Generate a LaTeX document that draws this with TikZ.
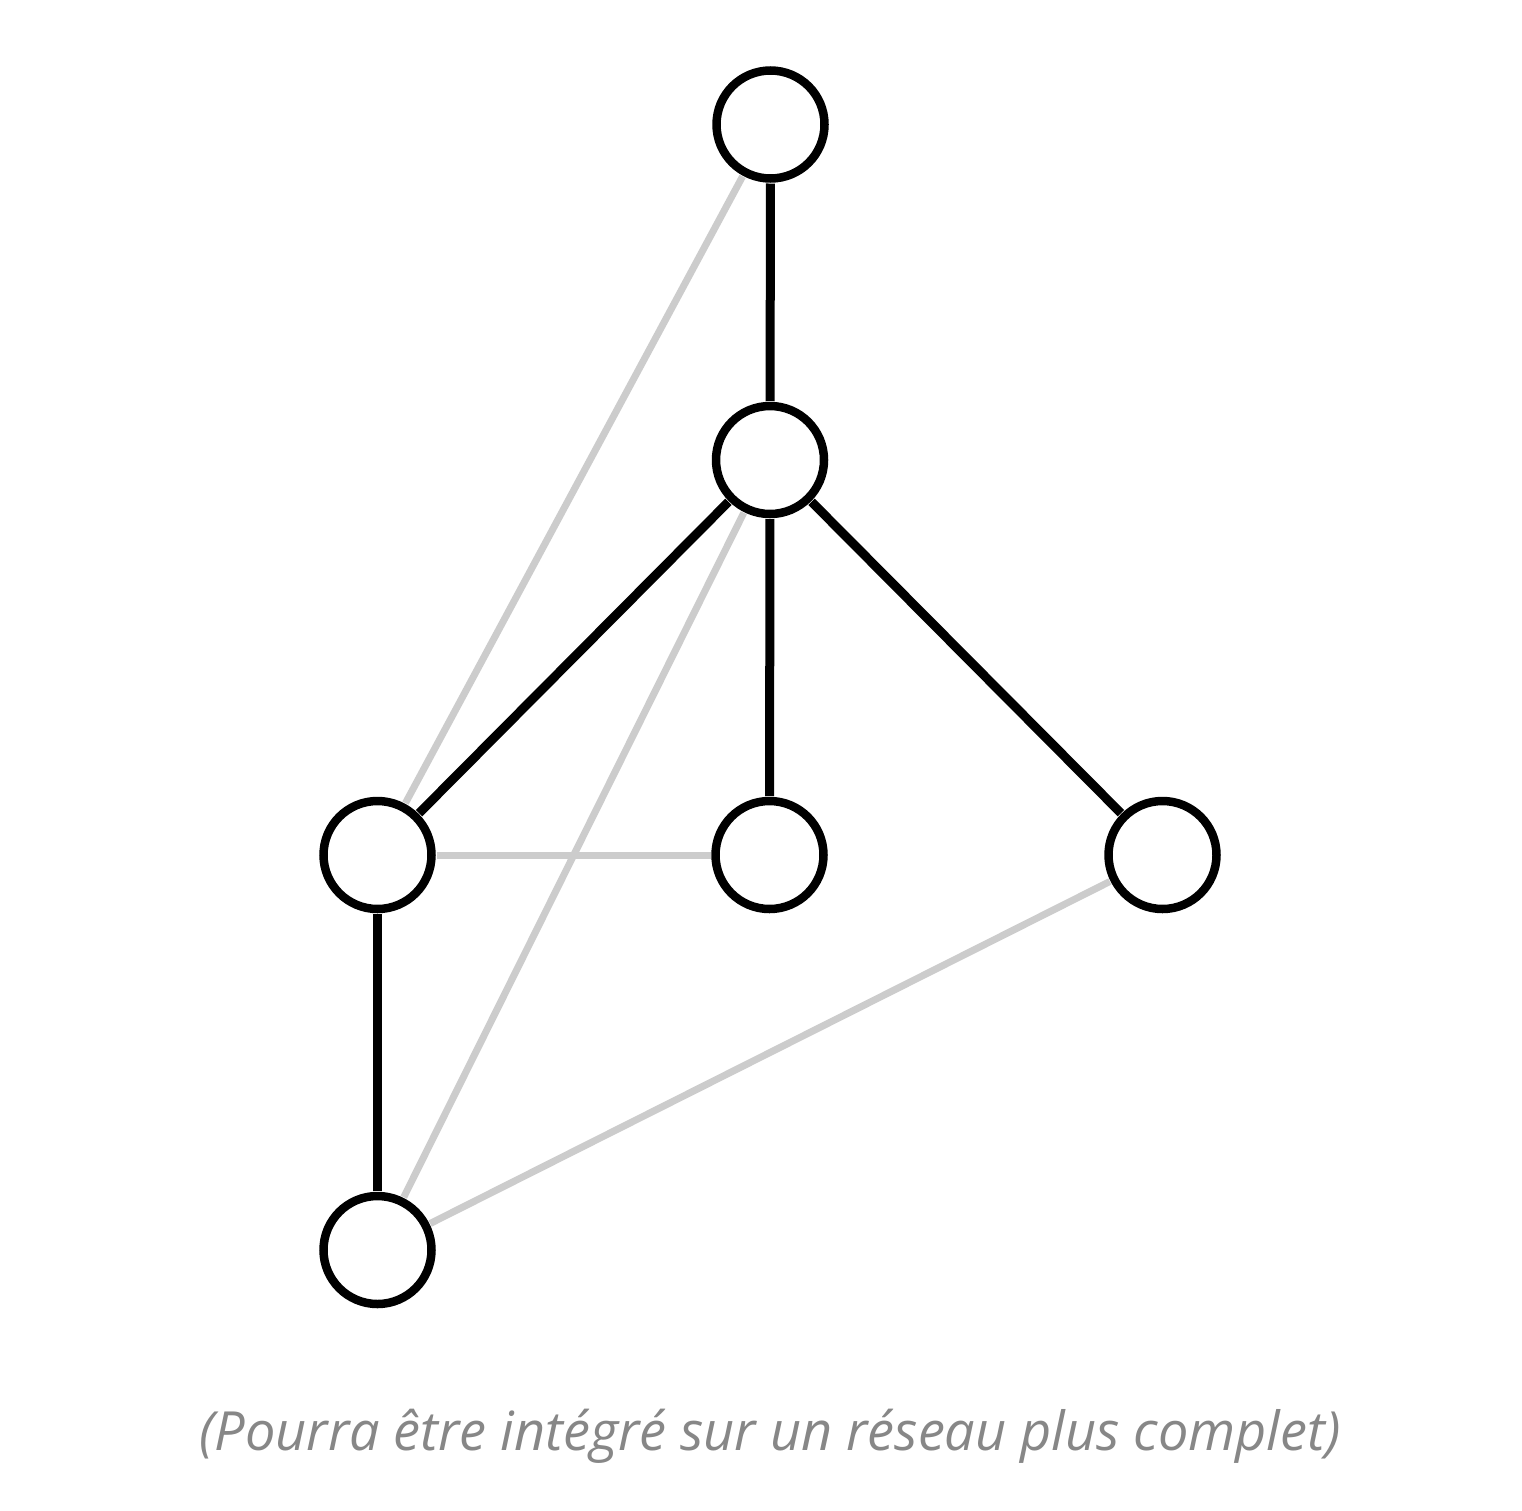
\documentclass[tikz,border=0pt]{standalone}
\usepackage{fontspec}
\newfontfamily\capfont{Open Sans}
\begin{document}
\begin{tikzpicture}[x=1pt,y=-1pt,
  vertex/.style={circle,draw=black,line width=8.5pt,fill=white,minimum size=108pt,inner sep=0pt,outer sep=0pt},
  strong/.style={draw=black,line width=9pt,shorten <=5pt,shorten >=5pt},
  weak/.style={draw=black!20,line width=7pt,shorten <=5pt,shorten >=5pt}]
\fill[white] (0,0) rectangle (1522,1510);
\useasboundingbox (0,0) rectangle (1522,1510);
\path (770.5,124.5) node[vertex] (T) {}
      (770,460) node[vertex] (M) {}
      (377.5,855) node[vertex] (L) {}
      (769.5,855) node[vertex] (C) {}
      (1162.5,855) node[vertex] (R) {}
      (377.5,1250) node[vertex] (B) {};
\draw[weak] (T) -- (L);
\draw[weak] (M) -- (B);
\draw[weak] (L) -- (C);
\draw[weak] (R) -- (B);
\draw[strong] (T) -- (M);
\draw[strong] (M) -- (L);
\draw[strong] (M) -- (C);
\draw[strong] (M) -- (R);
\draw[strong] (L) -- (B);
\node[anchor=base,text=black!47,font=\capfont\itshape\fontsize{54}{62}\selectfont,inner sep=0pt] (cap) at (770,1450) {(Pourra être intégré sur un réseau plus complet)};
\end{tikzpicture}
\end{document}
